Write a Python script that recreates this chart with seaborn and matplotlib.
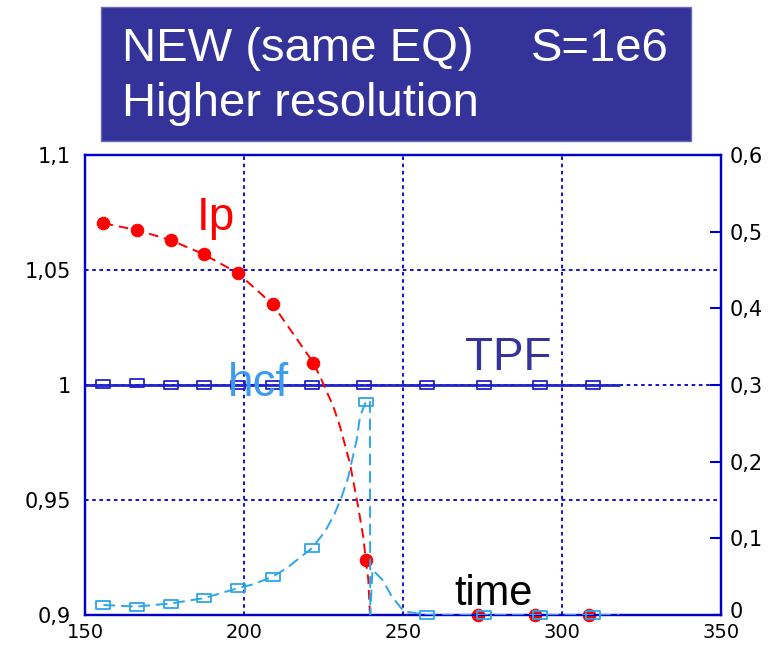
import numpy as np
import matplotlib
matplotlib.use("Agg")
import matplotlib.pyplot as plt
from matplotlib.patches import Rectangle
from matplotlib.path import Path
from matplotlib.ticker import FixedLocator, FuncFormatter
from matplotlib.transforms import ScaledTranslation
import seaborn as sns

# ---- data -------------------------------------------------------------
# plasma current (left axis), dashed trace and sampled points
ip_line_t = [155.8, 166.2, 176.9, 187.4, 198.1, 209.0, 221.8, 224.4, 228.1,
             230.2, 233.3, 235.9, 237.5, 238.3, 239.1, 239.6, 262.0, 318.0]
ip_line_v = [1.0703, 1.0674, 1.0630, 1.0568, 1.0486, 1.0351, 1.0097, 1.0022,
             0.9906, 0.9819, 0.9660, 0.9470, 0.9340, 0.9239, 0.9152, 0.9000,
             0.9000, 0.9000]
ip_mark_t = [155.8, 166.2, 176.9, 187.4, 198.1, 209.0, 221.8, 238.3, 273.7, 291.5, 308.6]
ip_mark_v = [1.0703, 1.0674, 1.0630, 1.0568, 1.0486, 1.0351, 1.0097, 0.9239, 0.9, 0.9, 0.9]

# halo current fraction (right axis)
hcf_line_t = [155.8, 166.2, 176.9, 187.4, 198.1, 202.9, 209.0, 213.4, 221.3,
              225.5, 228.6, 230.7, 232.8, 235.4, 236.5, 238.3, 239.6, 239.7,
              240.4, 243.5, 246.5, 250.2, 257.4, 318.0]
hcf_line_v = [0.013, 0.011, 0.015, 0.022, 0.035, 0.040, 0.050, 0.061, 0.087,
              0.109, 0.133, 0.154, 0.180, 0.228, 0.259, 0.278, 0.280, 0.000,
              0.059, 0.046, 0.024, 0.005, 0.000, 0.000]
hcf_mark_t = [155.8, 166.2, 176.9, 187.4, 198.1, 209.0, 221.3, 238.3, 257.4, 275.6, 293.1, 309.9]
hcf_mark_v = [0.013, 0.011, 0.015, 0.022, 0.035, 0.050, 0.087, 0.278, 0.0, 0.0, 0.0, 0.0]

# toroidal peaking factor (left axis)
tpf_line_t = [150.0, 318.0]
tpf_line_v = [1.0, 1.0]
tpf_mark_t = [155.8, 166.2, 176.9, 187.4, 198.1, 209.0, 221.3, 237.7, 257.4, 275.6, 293.1, 309.9]
tpf_mark_v = [1.0005, 1.0008, 1.0, 1.0, 1.0, 1.0, 1.0, 1.0, 1.0, 1.0, 1.0, 1.0]

x_ticks = [150, 200, 250, 300, 350]
left_ticks = [0.9, 0.95, 1.0, 1.05, 1.1]
right_ticks = [0.0, 0.1, 0.2, 0.3, 0.4, 0.5, 0.6]

# ---- styling ----------------------------------------------------------
sns.set_style("white")
plt.rcParams["font.family"] = ["DejaVu Sans"]

RED = "#ff0000"
LBLUE = "#2ba6e8"
DBLUE = "#2222cc"
NAVY = "#333399"
AXC = "#0000cc"

fig = plt.figure(figsize=(7.77, 6.45), dpi=100)
ax = fig.add_axes([85 / 777, 1 - 615 / 645, 636 / 777, 460 / 645])
ax2 = ax.twinx()

# wide box marker
rect_marker = Path([(-1.5, -1), (1.5, -1), (1.5, 1), (-1.5, 1), (-1.5, -1)],
                   [Path.MOVETO, Path.LINETO, Path.LINETO, Path.LINETO, Path.CLOSEPOLY])

ax.set_xlim(150, 350)
ax.set_ylim(0.9, 1.1)
ax2.set_ylim(0.0, 0.6)

# grid
for gx in [200, 250, 300]:
    ax.axvline(gx, color=AXC, lw=1.3, ls=(0, (2, 2)), zorder=0.5)
for gy in [0.95, 1.0, 1.05]:
    ax.axhline(gy, color=AXC, lw=1.3, ls=(0, (2, 2)), zorder=0.5)

# TPF
sns.lineplot(x=tpf_line_t, y=tpf_line_v, ax=ax, color=DBLUE, lw=2.0,
             estimator=None, sort=False, zorder=3)
sns.lineplot(x=tpf_mark_t, y=tpf_mark_v, ax=ax, color=DBLUE, linestyle="none",
             marker=rect_marker, markersize=9.5, markerfacecolor="none",
             markeredgecolor=DBLUE, markeredgewidth=1.3, estimator=None,
             sort=False, zorder=3)

# Ip
sns.lineplot(x=ip_line_t, y=ip_line_v, ax=ax, color=RED, lw=1.4,
             linestyle=(0, (5, 3)), estimator=None, sort=False, zorder=4)
sns.lineplot(x=ip_mark_t, y=ip_mark_v, ax=ax, color=RED, linestyle="none",
             marker="o", markersize=9, markerfacecolor=RED,
             markeredgecolor=RED, estimator=None, sort=False, zorder=4,
             clip_on=False)

# hcf
sns.lineplot(x=hcf_line_t, y=hcf_line_v, ax=ax2, color=LBLUE, lw=1.4,
             linestyle=(0, (6, 3)), estimator=None, sort=False, zorder=3)
sns.lineplot(x=hcf_mark_t, y=hcf_mark_v, ax=ax2, color=LBLUE, linestyle="none",
             marker=rect_marker, markersize=9.5, markerfacecolor="none",
             markeredgecolor=LBLUE, markeredgewidth=1.3, estimator=None,
             sort=False, zorder=3, clip_on=False)

# axes appearance
def comma(v, _pos):
    s = ("%g" % round(v, 3))
    return s.replace(".", ",")

ax.xaxis.set_major_locator(FixedLocator(x_ticks))
ax.yaxis.set_major_locator(FixedLocator(left_ticks))
ax2.yaxis.set_major_locator(FixedLocator(right_ticks))
ax.yaxis.set_major_formatter(FuncFormatter(comma))
ax2.yaxis.set_major_formatter(FuncFormatter(comma))
ax.xaxis.set_major_formatter(FuncFormatter(lambda v, p: "%d" % v))

ax.tick_params(axis="x", length=0, pad=5.5, labelsize=14, labelcolor="black")
ax.tick_params(axis="y", length=0, pad=10, labelsize=15, labelcolor="black")
ax2.tick_params(axis="y", direction="in", length=8, width=1.5, color=AXC,
                pad=6, labelsize=15, labelcolor="black")

# lift the right-hand "0" a little so it clears the "350" below it
zero_tick = ax2.yaxis.get_major_ticks()[0]
zero_tick.label2.set_transform(zero_tick.label2.get_transform()
                               + ScaledTranslation(0, 5 / 100, fig.dpi_scale_trans))

for a in (ax, ax2):
    for sp in a.spines.values():
        sp.set_color(AXC)
        sp.set_linewidth(1.6)
        sp.set_visible(True)
ax.set_xlabel("")
ax.set_ylabel("")
ax2.set_ylabel("")

# curve labels
lab = dict(family=["Liberation Sans", "DejaVu Sans"], va="baseline", ha="left")
ax.text(185.2, 1.0674, "Ip", color=RED, fontsize=33, **lab)
ax.text(195.0, 0.9952, "hcf", color="#3d9cf0", fontsize=33, zorder=6, **lab)
ax.text(269.5, 1.0065, "TPF", color=NAVY, fontsize=33, **lab)
ax.text(266.0, 0.9043, "time", color="black", fontsize=30, **lab)

# title panel
fig.patches.append(Rectangle((101 / 777, 1 - 141 / 645), 590 / 777, 134 / 645,
                             transform=fig.transFigure, facecolor=NAVY,
                             edgecolor="#6a6ab8", lw=1.0, zorder=0))
tk = dict(family=["Liberation Sans", "DejaVu Sans"], color="white",
          fontsize=34, va="center")
fig.text(122 / 777, 1 - 49 / 645, "NEW (same EQ)", ha="left", **tk)
fig.text(669 / 777, 1 - 49 / 645, "S=1e6", ha="right", **tk)
fig.text(122 / 777, 1 - 104 / 645, "Higher resolution", ha="left", **tk)

fig.savefig("out.png", dpi=100)
